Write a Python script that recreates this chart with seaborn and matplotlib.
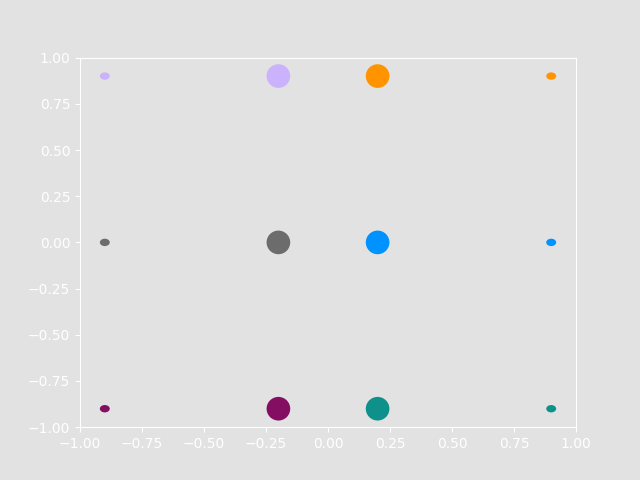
import numpy as np
import pandas as pd
import matplotlib
matplotlib.use("Agg")
import matplotlib.pyplot as plt
import seaborn as sns
from matplotlib.path import Path
from matplotlib.patches import Ellipse

# big markers in the middle columns
big_x = [-0.2, 0.2, -0.2, 0.2, -0.2, 0.2]
big_y = [0.9, 0.9, 0.0, 0.0, -0.9, -0.9]
big_colors = ["#cbb2fd", "#ff9300", "#6c6c6c", "#0092ff", "#840e62", "#0e918b"]

# small ellipses at the outer columns
small_x = [-0.9, 0.9, -0.9, 0.9, -0.9, 0.9]
small_y = [0.9, 0.9, 0.0, 0.0, -0.9, -0.9]
small_colors = ["#cbb2fd", "#ff9300", "#6c6c6c", "#0092ff", "#840e62", "#0e918b"]
small_size = 0.04

bg = "#e2e2e2"
sns.set_style("white")
plt.rcParams['font.family'] = ['DejaVu Sans']

fig, ax = plt.subplots(figsize=(6.4, 4.8), dpi=100)
fig.patch.set_facecolor(bg)
ax.set_facecolor(bg)

big_df = pd.DataFrame({"x": big_x, "y": big_y, "c": big_colors})
sns.scatterplot(data=big_df, x="x", y="y", hue="c", palette=dict(zip(big_colors, big_colors)),
                s=290, linewidth=0, legend=False, ax=ax)

for x, y, c in zip(small_x, small_y, small_colors):
    ax.add_patch(Ellipse((x, y), small_size, small_size, color=c, lw=0))

ax.set_xlim(-1, 1)
ax.set_ylim(-1, 1)
ax.set_xlabel("")
ax.set_ylabel("")
for sp in ax.spines.values():
    sp.set_color("white")
    sp.set_visible(True)
ax.tick_params(colors="white", labelsize=10, length=3.5, width=0.8, direction="out",
               bottom=True, left=True)
ax.set_xticks(np.arange(-1, 1.01, 0.25))
ax.set_yticks(np.arange(-1, 1.01, 0.25))

fig.subplots_adjust(left=0.125, right=0.9, bottom=0.11, top=0.88)
fig.savefig("out.png", dpi=100, facecolor=bg)
